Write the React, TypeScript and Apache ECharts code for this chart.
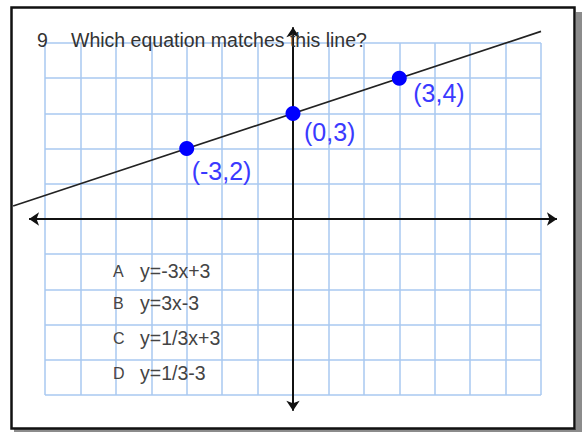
import React, { useEffect, useRef } from "react";
import * as echarts from "echarts";

// ---- data ----
const questionNumber = "9";
const questionText = "Which equation matches this line?";
const pointsX = [-3, 0, 3];
const pointsY = [2, 3, 4];
const lineEndsX = [-7.9, 7];
const lineEndsY = [0.37, 5.33];
const xRange = [-7, 7];
const yRange = [-5, 5];
const xAxisEnds = [-7.45, 7.45];
const yAxisEnds = [-5.45, 5.45];
const answerLetters = ["A", "B", "C", "D"];
const answerTexts = ["y=-3x+3", "y=3x-3", "y=1/3x+3", "y=1/3-3"];

// ---- layout / style ----
const FONT = "'Liberation Sans', Arial, sans-serif";
const labelOffsets: [number, number][] = [
  [12.5, 29.5],
  [18.5, 26.5],
  [21.5, 22.5],
];
const answerRowY = [271, 303, 338, 373];

export default function App() {
  const ref = useRef<HTMLDivElement>(null);

  useEffect(() => {
    if (!ref.current) return;
    const chart = echarts.init(ref.current, null, { renderer: "svg" });

    const scatterData = pointsX.map((x, i) => ({
      value: [x, pointsY[i]],
      label: { position: labelOffsets[i] },
    }));

    const graphics: any[] = [
      // shadow
      { type: "rect", shape: { x: 576, y: 12, width: 6, height: 420 }, style: { fill: "#8c8c8c" }, silent: true },
      { type: "rect", shape: { x: 14, y: 429, width: 568, height: 4 }, style: { fill: "#8c8c8c" }, silent: true },
      // frame
      {
        type: "rect",
        shape: { x: 11.5, y: 7.5, width: 563, height: 421 },
        style: { fill: "none", stroke: "#111", lineWidth: 2.5 },
        silent: true,
      },
      {
        type: "text",
        left: 37,
        top: 30,
        style: { text: questionNumber, fill: "#333", font: `19.5px ${FONT}` },
        z: 10,
      },
      {
        type: "text",
        left: 71,
        top: 30,
        style: { text: questionText, fill: "#333", font: `19.5px ${FONT}` },
        z: 10,
      },
    ];
    answerLetters.forEach((l, i) => {
      graphics.push({
        type: "text",
        x: 113,
        y: answerRowY[i],
        style: { text: l, fill: "#444", font: `16px ${FONT}`, verticalAlign: "middle", align: "left" },
        z: 10,
      });
      graphics.push({
        type: "text",
        x: 140,
        y: answerRowY[i],
        style: { text: answerTexts[i], fill: "#444", font: `19.5px ${FONT}`, verticalAlign: "middle", align: "left" },
        z: 10,
      });
    });

    const gridLine = { show: true, lineStyle: { color: "#a9c8f0", width: 1.5 } };

    chart.setOption({
      animation: false,
      backgroundColor: "#ffffff",
      grid: { left: 45, top: 43, width: 496, height: 352, containLabel: false },
      xAxis: {
        type: "value",
        min: xRange[0],
        max: xRange[1],
        interval: 1,
        axisLine: { show: false },
        axisTick: { show: false },
        axisLabel: { show: false },
        splitLine: gridLine,
      },
      yAxis: {
        type: "value",
        min: yRange[0],
        max: yRange[1],
        interval: 1,
        axisLine: { show: false },
        axisTick: { show: false },
        axisLabel: { show: false },
        splitLine: gridLine,
      },
      graphic: graphics,
      series: [
        {
          type: "lines",
          coordinateSystem: "cartesian2d",
          clip: false,
          symbol: ["arrow", "arrow"],
          symbolSize: 10,
          lineStyle: { color: "#111", width: 2, opacity: 1 },
          data: [
            { coords: [[xAxisEnds[0], 0], [xAxisEnds[1], 0]] },
            { coords: [[0, yAxisEnds[0]], [0, yAxisEnds[1]]] },
          ],
          z: 3,
          silent: true,
        },
        {
          type: "lines",
          coordinateSystem: "cartesian2d",
          clip: false,
          symbol: ["none", "none"],
          lineStyle: { color: "#222", width: 1.6, opacity: 1 },
          data: [
            {
              coords: [
                [lineEndsX[0], lineEndsY[0]],
                [lineEndsX[1], lineEndsY[1]],
              ],
            },
          ],
          z: 4,
          silent: true,
        },
        {
          type: "scatter",
          data: scatterData,
          symbolSize: 15,
          itemStyle: { color: "#0000ff", opacity: 1 },
          label: {
            show: true,
            formatter: (p: any) => `(${p.value[0]},${p.value[1]})`,
            color: "#3a3aff",
            fontSize: 25,
            fontFamily: FONT,
            align: "left",
            verticalAlign: "middle",
          },
          z: 5,
          silent: true,
        },
      ],
    });

    return () => chart.dispose();
  }, []);

  return (
    <div
      ref={ref}
      style={{ position: "fixed", left: 0, top: 0, width: 584, height: 432 }}
    />
  );
}
